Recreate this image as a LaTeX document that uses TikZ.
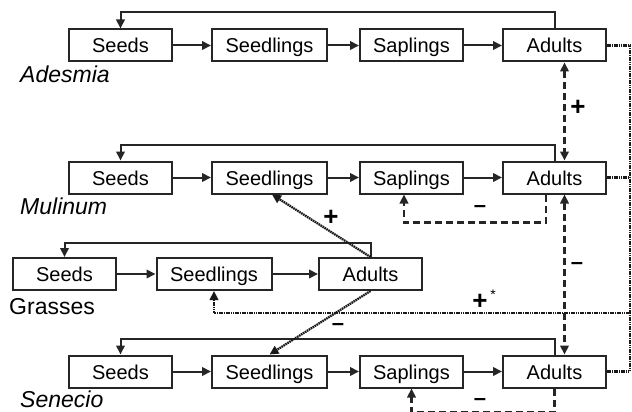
\documentclass[tikz,border=0pt]{standalone}
\usepackage{fontspec}
\setmainfont{Liberation Sans}
\usetikzlibrary{arrows.meta}
\begin{document}
\begin{tikzpicture}[x=1pt,y=-1pt,
  stagebox/.style={draw=black!85, line width=2pt, minimum height=32pt, inner sep=0pt, text height=15pt, text depth=0pt, font=\fontsize{20}{22}\selectfont},
  wbox/.style={stagebox, minimum width=103pt},
  sbox/.style={stagebox, minimum width=115pt},
  tip/.style={-{Triangle[length=9pt,width=8.5pt]}},
  flow/.style={line width=2pt, draw=black!85, tip},
  dashedline/.style={line width=2.3pt, draw=black!85, dash pattern=on 7pt off 4pt},
  dottedline/.style={line width=2.3pt, draw=black!90, dash pattern=on 1.6pt off 0.7pt},
  taxon/.style={anchor=base west, inner sep=0pt, font=\fontsize{23}{25}\selectfont\itshape},
  sign/.style={inner sep=0pt, font=\fontsize{26}{28}\selectfont\bfseries},
  minus/.style={inner sep=0pt, font=\fontsize{22}{24}\selectfont\bfseries}
]
\useasboundingbox (0,0) rectangle (632,412);

% Row 1: Adesmia
\node[wbox] (a1) at (120.5,45.5) {Seeds};
\node[sbox] (a2) at (269.5,45.5) {Seedlings};
\node[wbox] (a3) at (411.5,45.5) {Saplings};
\node[wbox] (a4) at (554.5,45.5) {Adults};
\node[taxon] (ta) at (20,82) {Adesmia};

% Row 2: Mulinum
\node[wbox] (m1) at (120.5,177.5) {Seeds};
\node[sbox] (m2) at (269.5,177.5) {Seedlings};
\node[wbox] (m3) at (411.5,177.5) {Saplings};
\node[wbox] (m4) at (554.5,177.5) {Adults};
\node[taxon] (tm) at (20,214) {Mulinum};

% Row 3: Grasses
\node[wbox] (g1) at (64.5,274) {Seeds};
\node[sbox] (g2) at (214,274) {Seedlings};
\node[wbox] (g3) at (370.5,274) {Adults};
\node[taxon, font=\fontsize{23}{25}\selectfont] (tg) at (9,314) {Grasses};

% Row 4: Senecio
\node[wbox] (s1) at (120.5,371.5) {Seeds};
\node[sbox] (s2) at (269.5,371.5) {Seedlings};
\node[wbox] (s3) at (411.5,371.5) {Saplings};
\node[wbox] (s4) at (554.5,371.5) {Adults};
\node[taxon] (ts) at (20,407) {Senecio};

% stage transitions
\foreach \r in {a,m,s}{
  \draw[flow] (\r1) -- (\r2);
  \draw[flow] (\r2) -- (\r3);
  \draw[flow] (\r3) -- (\r4);
  \draw[flow] (\r4.north) -- ++(0,-16) -| (\r1.north);
}
\draw[flow] (g1) -- (g2);
\draw[flow] (g2) -- (g3);
\draw[flow] (g3.north) -- ++(0,-14) -| (g1.north);

% dashed interactions
\draw[dashedline, {Triangle[length=9pt,width=8.5pt]}-{Triangle[length=9pt,width=8.5pt]}] ([xshift=10pt]a4.south) -- ([xshift=10pt]m4.north);
\draw[dashedline, {Triangle[length=9pt,width=8.5pt]}-{Triangle[length=9pt,width=8.5pt]}] ([xshift=10pt]m4.south) -- ([xshift=10pt]s4.north);
\draw[dashedline, tip] ([xshift=-8.5pt]m4.south) -- ++(0,28) -| ([xshift=-7.5pt]m3.south);
\draw[dashedline, tip] (s4.south) -- ++(0,23.5) -| (s3.south);

% dotted interactions
\coordinate (rc) at (630,313);
\draw[dottedline] (a4.east) -| (s4.east -| rc) -- (s4.east);
\draw[dottedline] (m4.east) -- (m4.east -| rc);
\draw[dottedline, tip] (rc) -| (g2.south);
\draw[dottedline, tip] (g3.north) -- ([xshift=2.5pt]m2.south);
\draw[dottedline, tip] (g3.south) -- (s2.north);

% signs
\node[sign] (p1) at (578,108) {+};
\node[minus] (n1) at (577,266) {–};
\node[minus] (n2) at (480,209) {–};
\node[sign] (p2) at (331,218) {+};
\node[minus] (n3) at (338,327) {–};
\node[sign] (p3) at (480,302) {+};
\node[inner sep=0pt, font=\fontsize{14}{14}\selectfont] (st) at (493,295) {*};
\node[minus] (n4) at (480,402) {–};
\end{tikzpicture}
\end{document}
